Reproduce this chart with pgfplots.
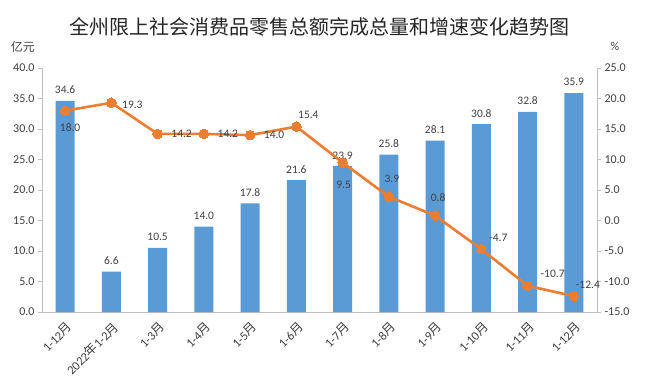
\documentclass[border=0pt]{standalone}
\usepackage{pgfplots}
\pgfplotsset{compat=1.18}
\usepackage{fontspec}
\setmainfont{Carlito}
\newfontfamily\cjk{Noto Sans CJK SC}
\definecolor{barblue}{HTML}{5B9BD5}
\definecolor{lineorange}{HTML}{ED7D31}
\definecolor{axgray}{HTML}{BFBFBF}
\definecolor{txt}{HTML}{404040}

\begin{document}
\begin{tikzpicture}[x=1pt,y=1pt]
\path[use as bounding box] (-42,-72) rectangle (610,312);
\pgfplotsset{
  every tick label/.append style={font=\fontsize{12}{14}\selectfont, text=txt},
  /pgf/number format/assume math mode=true,
  lbl/.style 2 args={draw=none, mark=none, forget plot,
    nodes near coords={\pgfmathprintnumber[fixed,fixed zerofill,precision=1]{\pgfplotspointmeta}},
    every node near coord/.append style={font=\fontsize{11.5}{13}\selectfont, text=txt, anchor=center, xshift=#1, yshift=#2}},
}
\begin{axis}[
  at={(0,0)}, anchor=south west, scale only axis,
  width=555pt, height=244pt,
  xmin=-0.5, xmax=11.5, ymin=0, ymax=40,
  ytick={0,5,...,40},
  axis x line*=bottom, axis y line*=left,
  axis line style={draw=axgray},
  tick align=outside, major tick length=4pt,
  ytick style={draw=axgray},
  xtick={0,...,11},
  xtick style={draw=none},
  xticklabels={{1-12{\cjk 月}},{2022{\cjk 年}1-2{\cjk 月}},{1-3{\cjk 月}},{1-4{\cjk 月}},{1-5{\cjk 月}},{1-6{\cjk 月}},{1-7{\cjk 月}},{1-8{\cjk 月}},{1-9{\cjk 月}},{1-10{\cjk 月}},{1-11{\cjk 月}},{1-12{\cjk 月}}},
  xticklabel style={rotate=45, anchor=east, font=\fontsize{12.5}{14}\selectfont, xshift=0.5pt, yshift=-9.5pt},
  yticklabel style={/pgf/number format/.cd, fixed, fixed zerofill, precision=1},
  title={\cjk 全州限上社会消费品零售总额完成总量和增速变化趋势图},
  title style={font=\fontsize{20}{24}\selectfont, text=black!85, at={(axis description cs:0.5,1.143)}, anchor=center},
  clip=false,
]
\addplot[ybar, bar width=19pt, fill=barblue, draw=none,
  nodes near coords={\pgfmathprintnumber[fixed,fixed zerofill,precision=1]{\pgfplotspointmeta}},
  every node near coord/.append style={font=\fontsize{11.5}{13}\selectfont, text=txt, anchor=south, yshift=3.5pt}]
  coordinates {(0,34.6) (1,6.6) (2,10.5) (3,14.0) (4,17.8) (5,21.6) (6,23.9) (7,25.8) (8,28.1) (9,30.8) (10,32.8) (11,35.9)};
\end{axis}
\begin{axis}[
  at={(0,0)}, anchor=south west, scale only axis,
  width=555pt, height=244pt,
  xmin=-0.5, xmax=11.5, ymin=-15, ymax=25,
  ytick={-15,-10,...,25},
  axis x line=none, axis y line*=right,
  axis line style={draw=axgray},
  tick align=outside, major tick length=4pt,
  ytick style={draw=axgray},
  yticklabel style={/pgf/number format/.cd, fixed, fixed zerofill, precision=1},
  clip=false,
]
\addplot[lineorange, line width=2.6pt, mark=*, mark size=4.8pt, mark options={fill=lineorange, draw=lineorange, line width=0pt}]
  coordinates {(0,18.0) (1,19.3) (2,14.2) (3,14.2) (4,14.0) (5,15.4) (6,9.5) (7,3.9) (8,0.8) (9,-4.7) (10,-10.7) (11,-12.4)};
\addplot[lbl={5pt}{-17pt}] coordinates {(0,18.0)};
\addplot[lbl={21pt}{-2pt}] coordinates {(1,19.3)};
\addplot[lbl={24pt}{0pt}] coordinates {(2,14.2) (3,14.2) (4,14.0)};
\addplot[lbl={12pt}{12pt}] coordinates {(5,15.4)};
\addplot[lbl={1pt}{-22pt}] coordinates {(6,9.5)};
\addplot[lbl={3pt}{18pt}] coordinates {(7,3.9) (8,0.8)};
\addplot[lbl={17pt}{11pt}] coordinates {(9,-4.7)};
\addplot[lbl={25pt}{12pt}] coordinates {(10,-10.7)};
\addplot[lbl={14pt}{11pt}] coordinates {(11,-12.4)};
\end{axis}
\node[font=\cjk\fontsize{12}{14}\selectfont, text=txt] at (-19,265) {亿元};
\node[font=\fontsize{12}{14}\selectfont, text=txt] at (573,266) {\%};
\end{tikzpicture}
\end{document}
